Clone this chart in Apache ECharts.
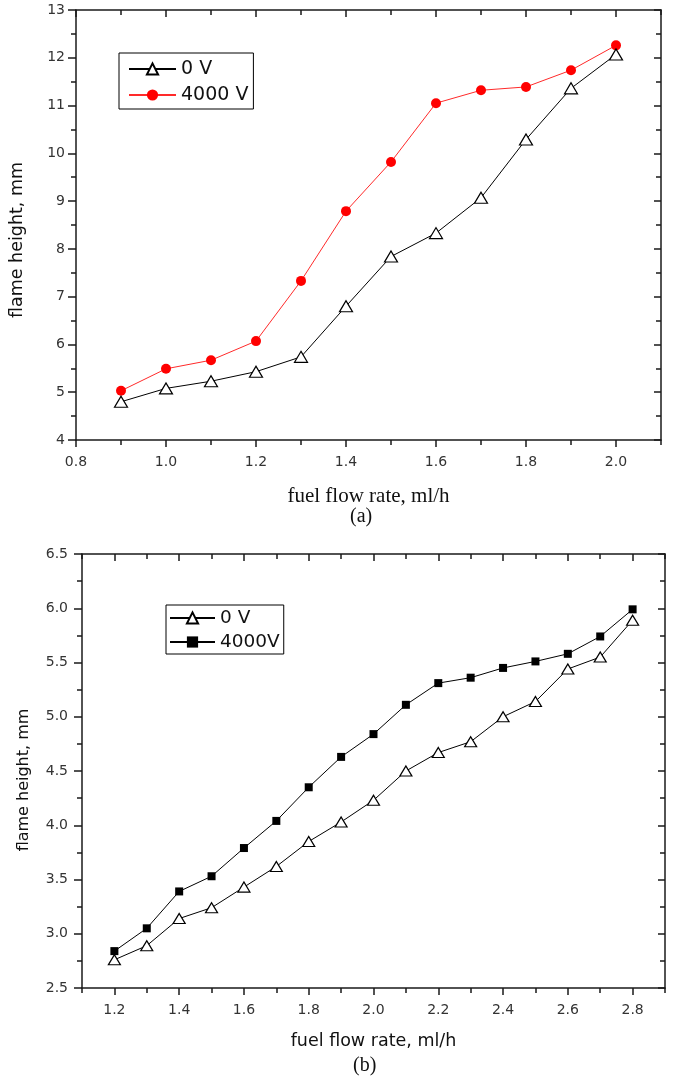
<!DOCTYPE html>
<html>
<head>
<meta charset="utf-8">
<script src="https://cdn.jsdelivr.net/npm/echarts@6/dist/echarts.min.js"></script>
<style>html,body{margin:0;padding:0;background:#fff}#c{width:675px;height:1082px}</style>
</head>
<body>
<div id="c"></div>
<script>
// ---- Data: chart (a) ----
const flowA = [0.9, 1.0, 1.1, 1.2, 1.3, 1.4, 1.5, 1.6, 1.7, 1.8, 1.9, 2.0];
const heightA_0V = [4.80, 5.08, 5.23, 5.43, 5.74, 6.80, 7.84, 8.33, 9.07, 10.29, 11.36, 12.07];
const heightA_4000V = [5.03, 5.49, 5.67, 6.07, 7.33, 8.79, 9.82, 11.05, 11.32, 11.39, 11.74, 12.26];
const xTicksA = [0.8, 1.0, 1.2, 1.4, 1.6, 1.8, 2.0];

// ---- Data: chart (b) ----
const flowB = [1.2, 1.3, 1.4, 1.5, 1.6, 1.7, 1.8, 1.9, 2.0, 2.1, 2.2, 2.3, 2.4, 2.5, 2.6, 2.7, 2.8];
const heightB_0V = [2.76, 2.89, 3.14, 3.24, 3.43, 3.62, 3.85, 4.03, 4.23, 4.50, 4.67, 4.77, 5.00, 5.14, 5.44, 5.55, 5.89];
const heightB_4000V = [2.84, 3.05, 3.39, 3.53, 3.79, 4.04, 4.35, 4.63, 4.84, 5.11, 5.31, 5.36, 5.45, 5.51, 5.58, 5.74, 5.99];
const xTicksB = [1.2, 1.4, 1.6, 1.8, 2.0, 2.2, 2.4, 2.6, 2.8];

const pairs = (xs, ys) => xs.map((x, i) => [x, ys[i]]);

const AX = '#1a1a1a';
const SANS = '"DejaVu Sans", "Liberation Sans", Arial, sans-serif';
const SERIF = '"Liberation Serif", "Times New Roman", serif';

function xAxesFor(gridIndex, min, max, majors, nameText, nameFont, nameSize, nameGap) {
  const line = { show: true, onZero: false, lineStyle: { color: AX, width: 1.5 } };
  return [
    { // bottom major with labels
      type: 'value', gridIndex, position: 'bottom', min, max,
      axisLine: line,
      axisTick: { show: true, customValues: majors, length: 7, lineStyle: { color: AX, width: 1.5 } },
      axisLabel: { customValues: majors, margin: 15, fontSize: 14, color: '#333', fontFamily: SANS,
                   formatter: v => Number(v).toFixed(1) },
      splitLine: { show: false },
      name: nameText, nameLocation: 'middle', nameGap,
      nameTextStyle: { fontFamily: nameFont, fontSize: nameSize, color: '#111' }
    },
    { // bottom minor
      type: 'value', gridIndex, position: 'bottom', min, max, interval: 0.1,
      axisLine: { show: false, onZero: false },
      axisTick: { show: true, length: 5, lineStyle: { color: AX, width: 1.5 } },
      axisLabel: { show: false }, splitLine: { show: false }
    },
    { // top major inward
      type: 'value', gridIndex, position: 'top', min, max,
      axisLine: line,
      axisTick: { show: true, inside: true, customValues: majors, length: 7, lineStyle: { color: AX, width: 1.5 } },
      axisLabel: { show: false }, splitLine: { show: false }
    },
    { // top minor inward
      type: 'value', gridIndex, position: 'top', min, max, interval: 0.1,
      axisLine: { show: false, onZero: false },
      axisTick: { show: true, inside: true, length: 5, lineStyle: { color: AX, width: 1.5 } },
      axisLabel: { show: false }, splitLine: { show: false }
    }
  ];
}

function yAxesFor(gridIndex, min, max, interval, fmt, labelMargin, nameSize, nameGap, namePad) {
  return [
    {
      type: 'value', gridIndex, position: 'left', min, max, interval,
      axisLine: { show: true, onZero: false, lineStyle: { color: AX, width: 1.5 } },
      axisTick: { show: true, length: 8, lineStyle: { color: AX, width: 1.5 } },
      minorTick: { show: true, splitNumber: 2, length: 5, lineStyle: { color: AX, width: 1.5 } },
      axisLabel: { margin: labelMargin, fontSize: 14, color: '#333', fontFamily: SANS, formatter: fmt },
      splitLine: { show: false }, minorSplitLine: { show: false },
      name: 'flame height, mm', nameLocation: 'middle', nameGap, nameRotate: 90,
      nameTextStyle: { fontFamily: SANS, fontSize: nameSize, color: '#111', padding: namePad }
    },
    {
      type: 'value', gridIndex, position: 'right', min, max, interval,
      axisLine: { show: true, onZero: false, lineStyle: { color: AX, width: 1.5 } },
      axisTick: { show: true, inside: true, length: 7, lineStyle: { color: AX, width: 1.5 } },
      minorTick: { show: true, splitNumber: 2, length: 5, lineStyle: { color: AX, width: 1.5 } },
      axisLabel: { show: false },
      splitLine: { show: false }, minorSplitLine: { show: false }
    }
  ];
}

const chart = echarts.init(document.getElementById('c'), null, { renderer: 'canvas' });

const option = {
  animation: false,
  backgroundColor: '#fff',
  grid: [
    { left: 73, top: 10, width: 588, height: 430 },
    { left: 82, top: 554, width: 583, height: 434 }
  ],
  xAxis: [
    ...xAxesFor(0, 0.8, 2.1, xTicksA, 'fuel flow rate, ml/h', SERIF, 21, 46),
    ...xAxesFor(1, 1.1, 2.9, xTicksB, 'fuel flow rate, ml/h', SANS, 17.5, 44)
  ],
  yAxis: [
    ...yAxesFor(0, 4, 13, 1, v => String(v), 11, 17.5, 50, [0, 30, 0, 0]),
    ...yAxesFor(1, 2.5, 6.5, 0.5, v => Number(v).toFixed(1), 14, 16, 50, [0, 18, 0, 0])
  ],
  legend: [
    {
      data: ['0 V', '4000 V'], orient: 'vertical', left: 119, top: 53,
      borderColor: '#000', borderWidth: 1, padding: [6, 5, 4, 9],
      itemWidth: 47, itemHeight: 14, itemGap: 6,
      textStyle: { fontSize: 19, fontFamily: SANS, color: '#111', lineHeight: 20 },
      selectedMode: false
    },
    {
      data: ['0 V', '4000V'], orient: 'vertical', left: 166, top: 605,
      borderColor: '#000', borderWidth: 1, padding: [3, 4, 2, 3],
      itemWidth: 45, itemHeight: 14, itemGap: 4,
      textStyle: { fontSize: 18.5, fontFamily: SANS, color: '#111', lineHeight: 20 },
      selectedMode: false
    }
  ],
  graphic: [
    { type: 'text', left: 350, top: 507, style: { text: '(a)', font: '20px ' + SERIF, fill: '#111' } },
    { type: 'text', left: 353, top: 1056, style: { text: '(b)', font: '20px ' + SERIF, fill: '#111' } }
  ],
  series: [
    {
      name: '4000 V', type: 'line', xAxisIndex: 0, yAxisIndex: 0,
      data: pairs(flowA, heightA_4000V),
      symbol: 'circle', symbolSize: 10,
      itemStyle: { color: '#ff0000' },
      lineStyle: { color: '#ff2a2a', width: 1 }
    },
    {
      name: '0 V', type: 'line', xAxisIndex: 0, yAxisIndex: 0,
      data: pairs(flowA, heightA_0V),
      symbol: 'triangle', symbolSize: [13, 11],
      itemStyle: { color: '#fff', borderColor: '#000', borderWidth: 1.2 },
      lineStyle: { color: '#000', width: 1 }
    },
    {
      name: '4000V', type: 'line', xAxisIndex: 4, yAxisIndex: 2,
      data: pairs(flowB, heightB_4000V),
      symbol: 'rect', symbolSize: 8,
      itemStyle: { color: '#000' },
      lineStyle: { color: '#000', width: 1 }
    },
    {
      name: '0 V', type: 'line', xAxisIndex: 4, yAxisIndex: 2,
      data: pairs(flowB, heightB_0V),
      symbol: 'triangle', symbolSize: [12, 10],
      itemStyle: { color: '#fff', borderColor: '#000', borderWidth: 1.2 },
      lineStyle: { color: '#000', width: 1 }
    }
  ]
};

chart.setOption(option);
</script>
</body>
</html>
